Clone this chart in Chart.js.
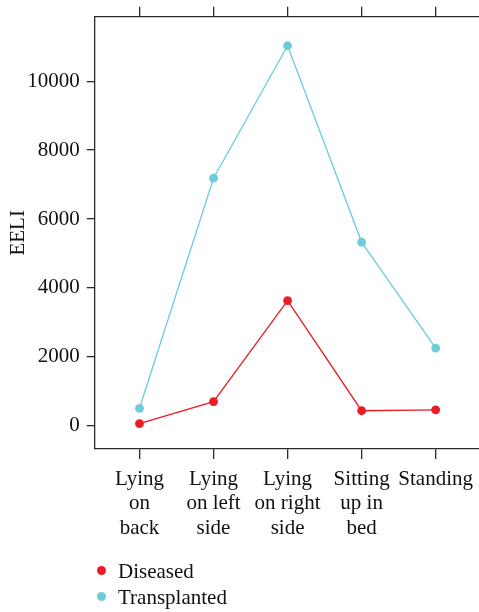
<!DOCTYPE html>
<html>
<head>
<meta charset="utf-8">
<script src="https://cdn.jsdelivr.net/npm/chart.js@4/dist/chart.umd.min.js"></script>
<style>
  html, body { margin: 0; padding: 0; background: #fff; }
  #wrap { position: relative; width: 479px; height: 612px; }
  #legend { position: absolute; left: 0; top: 558px; font-family: "Liberation Serif", serif; font-size: 21px; color: #111; }
  .item { position: absolute; white-space: nowrap; left: 0; height: 26px; line-height: 26px; }
  .dot { position: absolute; width: 9px; height: 9px; border-radius: 50%; left: 97px; top: 8px; }
  .lbl { position: absolute; left: 118px; top: 0; }
</style>
</head>
<body>
<div id="wrap">
  <canvas id="c" width="479" height="612"></canvas>
  <div id="legend"></div>
</div>
<script>
const categories = [
  ["Lying", "on", "back"],
  ["Lying", "on left", "side"],
  ["Lying", "on right", "side"],
  ["Sitting", "up in", "bed"],
  ["Standing"]
];
const seriesNames = ["Diseased", "Transplanted"];
const diseased = [58, 700, 3630, 435, 460];
const transplanted = [505, 7185, 11030, 5330, 2255];
const yTicks = [0, 2000, 4000, 6000, 8000, 10000];
const colors = ["#ec1c24", "#6ecbd9"];

const FONT = "'Liberation Serif', 'Times New Roman', serif";
const AXC = "#2a2a2a";

function toPts(arr) { return arr.map((v, i) => ({ x: i, y: v })); }

const legendEl = document.getElementById('legend');
seriesNames.forEach((n, i) => {
  const d = document.createElement('div');
  d.className = 'item';
  d.style.top = (i * 26) + 'px';
  d.innerHTML = '<span class="dot" style="background:' + colors[i] + '"></span><span class="lbl">' + n + '</span>';
  legendEl.appendChild(d);
});

const seriesData = [diseased, transplanted];
new Chart(document.getElementById('c'), {
  type: 'line',
  data: {
    datasets: seriesNames.map((n, i) => ({
      label: n,
      data: toPts(seriesData[i]),
      borderColor: colors[i],
      backgroundColor: colors[i],
      borderWidth: 1.3,
      pointRadius: 4.4,
      pointBorderWidth: 0,
      pointBackgroundColor: colors[i],
      tension: 0,
      xAxisID: 'x',
      yAxisID: 'y'
    }))
  },
  options: {
    responsive: false,
    devicePixelRatio: 1,
    animation: false,
    layout: { autoPadding: false, padding: { left: 0, right: 0, top: 0, bottom: 0 } },
    plugins: { legend: { display: false }, tooltip: { enabled: false } },
    scales: {
      x: {
        type: 'linear',
        position: 'bottom',
        min: -0.61,
        max: 4.585,
        afterBuildTicks: (s) => { s.ticks = categories.map((c, i) => ({ value: i })); },
        afterFit: (s) => { s.height = 163; s.paddingLeft = 0; s.paddingRight = 0; },
        ticks: {
          includeBounds: false,
          autoSkip: false,
          maxRotation: 0,
          padding: 8,
          color: '#111',
          font: { family: FONT, size: 21, lineHeight: 1.17 },
          callback: (v) => categories[v] || ''
        },
        grid: { display: true, drawOnChartArea: false, drawTicks: true, tickLength: 10, color: AXC, lineWidth: 1.3 },
        border: { display: true, color: AXC, width: 1.3 }
      },
      x2: {
        type: 'linear',
        position: 'top',
        min: -0.61,
        max: 4.585,
        afterBuildTicks: (s) => { s.ticks = categories.map((c, i) => ({ value: i })); },
        afterFit: (s) => { s.height = 16.7; s.paddingLeft = 0; s.paddingRight = 0; },
        ticks: { display: false },
        grid: { display: true, drawOnChartArea: false, drawTicks: true, tickLength: 10, color: AXC, lineWidth: 1.3 },
        border: { display: true, color: AXC, width: 1.3 }
      },
      y: {
        type: 'linear',
        position: 'left',
        min: -676,
        max: 11873,
        afterBuildTicks: (s) => { s.ticks = yTicks.map(v => ({ value: v })); },
        afterFit: (s) => { s.width = 94.3; s.paddingTop = 0; s.paddingBottom = 0; },
        ticks: {
          includeBounds: false,
          padding: 7,
          color: '#111',
          font: { family: FONT, size: 21 },
          callback: (v) => String(v)
        },
        title: {
          display: true,
          text: 'EELI',
          color: '#111',
          font: { family: FONT, size: 21, lineHeight: 1.2 },
          padding: { top: 6, bottom: 0 }
        },
        grid: { display: true, drawOnChartArea: false, drawTicks: true, tickLength: 7.5, color: AXC, lineWidth: 1.3 },
        border: { display: true, color: AXC, width: 1.3 }
      }
    }
  }
});
</script>
</body>
</html>
